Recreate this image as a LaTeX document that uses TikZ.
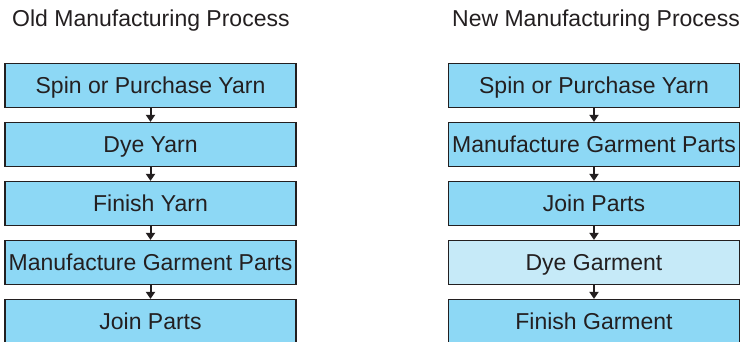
\documentclass[tikz,border=0pt]{standalone}
\usepackage{fontspec}
\setmainfont{Liberation Sans}
\usetikzlibrary{arrows.meta}
\definecolor{boxblue}{HTML}{8DD8F5}
\definecolor{boxlight}{HTML}{C6EAF8}
\definecolor{ink}{HTML}{231F20}
\begin{document}
\begin{tikzpicture}[x=1pt,y=-1pt,
  font=\fontsize{23}{27}\selectfont,
  stepbox/.style={draw=ink, line width=1.2pt, fill=boxblue, minimum width=291pt,
    minimum height=44pt, inner sep=0pt, text=ink, text height=16.5pt, text depth=0pt},
  lightbox/.style={stepbox, fill=boxlight},
  titletext/.style={anchor=base west, inner sep=0pt, text=ink},
  flow/.style={draw=ink, line width=2pt, -{Triangle[length=7pt,width=9pt]}}]
\useasboundingbox (0,0) rectangle (740,341);
\clip (0,0) rectangle (740,341);
\node[titletext] (t1) at (12,26) {Old Manufacturing Process};
\node[titletext] (t2) at (452,26) {New Manufacturing Process};
% old
\node[stepbox] (a1) at (150.5,85.5) {Spin or Purchase Yarn};
\node[stepbox] (a2) at (150.5,144.5) {Dye Yarn};
\node[stepbox] (a3) at (150.5,203.5) {Finish Yarn};
\node[stepbox] (a4) at (150.5,262.5) {Manufacture Garment Parts};
\node[stepbox] (a5) at (150.5,321.5) {Join Parts};
% new
\node[stepbox] (b1) at (594,85.5) {Spin or Purchase Yarn};
\node[stepbox] (b2) at (594,144.5) {Manufacture Garment Parts};
\node[stepbox] (b3) at (594,203.5) {Join Parts};
\node[lightbox] (b4) at (594,262.5) {Dye Garment};
\node[stepbox] (b5) at (594,321.5) {Finish Garment};
\foreach \c in {a,b}{
  \draw[flow] (\c1.south) -- (\c2.north);
  \draw[flow] (\c2.south) -- (\c3.north);
  \draw[flow] (\c3.south) -- (\c4.north);
  \draw[flow] (\c4.south) -- (\c5.north);
}
\end{tikzpicture}
\end{document}
